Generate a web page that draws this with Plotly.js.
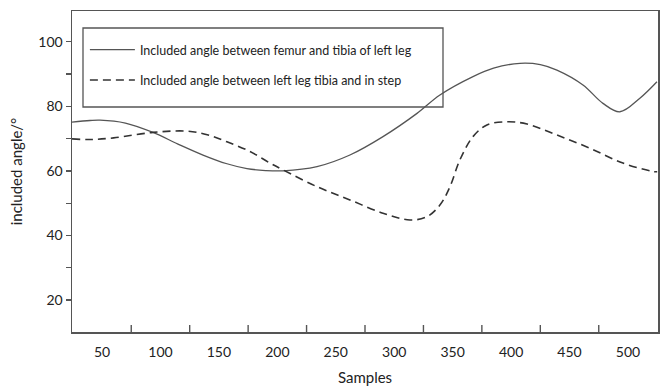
<!DOCTYPE html>
<html>
<head>
<meta charset="utf-8">
<script src="https://cdn.plot.ly/plotly-3.0.1.min.js"></script>
<style>html,body{margin:0;padding:0;background:#fff;}#chart{width:663px;height:388px;}</style>
</head>
<body>
<div id="chart"></div>
<script>
const femurX = [24.3, 39.7, 48.3, 70, 93.6, 115, 136.4, 156.9, 174, 190, 204.8, 233.9, 262.1, 290.4, 319.5, 339.1, 367.4, 385, 407.6, 425, 439.2, 461.5, 478.6, 493.1, 510.2, 524.8];
const femurY = [75.1, 75.6, 75.7, 74.8, 71.9, 68.3, 64.9, 62.2, 60.7, 60.1, 60.0, 61.3, 64.9, 70.6, 77.8, 83.5, 89.2, 91.8, 93.3, 92.9, 91.2, 86.6, 80.9, 78.3, 82.5, 87.6];
const tibiaX = [24.3, 39.7, 60, 93.6, 122.7, 140, 156.9, 176.6, 193.7, 204.8, 233.9, 262.1, 290.4, 313.5, 328.0, 339.1, 347.7, 356.2, 367.4, 379.3, 396.5, 413.6, 439.2, 467.5, 495.7, 521.4, 525];
const tibiaY = [69.9, 69.7, 70.2, 71.9, 72.3, 71.2, 69.0, 66.0, 62.4, 60.3, 55.1, 51.0, 46.9, 44.8, 45.8, 49.4, 55.1, 63.4, 70.6, 74.2, 75.2, 74.5, 71.1, 67.0, 62.4, 59.8, 59.7];
const seriesNames = ["Included angle between femur and tibia of left leg", "Included angle between left leg tibia and in step"];
const xTickLabelVals = [50, 100, 150, 200, 250, 300, 350, 400, 450, 500];
const xTickMarks = [75, 125, 175, 225, 275, 325, 375, 425, 475];
const yTickVals = [20, 30, 40, 50, 60, 70, 80, 90, 100];
const yTickText = ['20', '', '40', '', '60', '', '80', '', '100'];

const fontFam = "Lato, 'Open Sans', sans-serif";
const xRange = [24.3, 525.7];
const plotH = 388 - 11 - 56;
const traces = [
  {x: femurX, y: femurY, name: seriesNames[0], type: 'scatter', mode: 'lines', legendgroup: 'a',
   line: {color: '#555', width: 1.3, shape: 'spline', smoothing: 1}},
  {x: tibiaX, y: tibiaY, name: seriesNames[1], type: 'scatter', mode: 'lines', legendgroup: 'b',
   line: {color: '#333', width: 1.6, dash: '8px,5px', shape: 'spline', smoothing: 1}}
];
// inside tick marks of the x axis, placed on the x scale between the labelled values
const tickShapes = xTickMarks.map(v => ({type: 'line', xref: 'x', yref: 'paper', x0: v, x1: v, y0: 0, y1: 7 / plotH,
  line: {color: '#555', width: 1.4}}));
const layout = {
  width: 663, height: 388,
  margin: {l: 72, r: 5, t: 11, b: 56},
  paper_bgcolor: '#fff', plot_bgcolor: '#fff',
  font: {family: fontFam, color: '#222', size: 14},
  showlegend: true,
  legend: {x: 0.022, y: 0.925, xanchor: 'left', yanchor: 'top', bgcolor: 'rgba(0,0,0,0)', borderwidth: 0,
    itemwidth: 45,
    font: {family: fontFam, size: 12.5, color: '#222'}, tracegroupgap: 11},
  xaxis: {range: xRange, tickvals: xTickLabelVals, ticktext: xTickLabelVals.map(String), ticks: '',
    showgrid: false, zeroline: false, showline: true, mirror: true, linecolor: '#555', linewidth: 1.5,
    tickfont: {size: 14}, ticklabelstandoff: 7,
    title: {text: 'Samples', font: {size: 15}, standoff: 13}},
  yaxis: {range: [10.1, 109.5], tickvals: yTickVals, ticktext: yTickText, ticks: 'outside', ticklen: 5,
    tickcolor: '#555', tickwidth: 1.3,
    showgrid: false, zeroline: false, showline: true, mirror: true, linecolor: '#555', linewidth: 1.5,
    tickfont: {size: 14},
    title: {text: 'included angle/°', font: {size: 15}, standoff: 12}},
  shapes: [{type: 'rect', xref: 'paper', yref: 'paper', x0: 11/586, x1: 371/586, y0: 1 - 96/321, y1: 1 - 17/321,
    line: {color: '#555', width: 1.3}}].concat(tickShapes)
};
Plotly.newPlot('chart', traces, layout, {displayModeBar: false, staticPlot: true});
</script>
</body>
</html>
